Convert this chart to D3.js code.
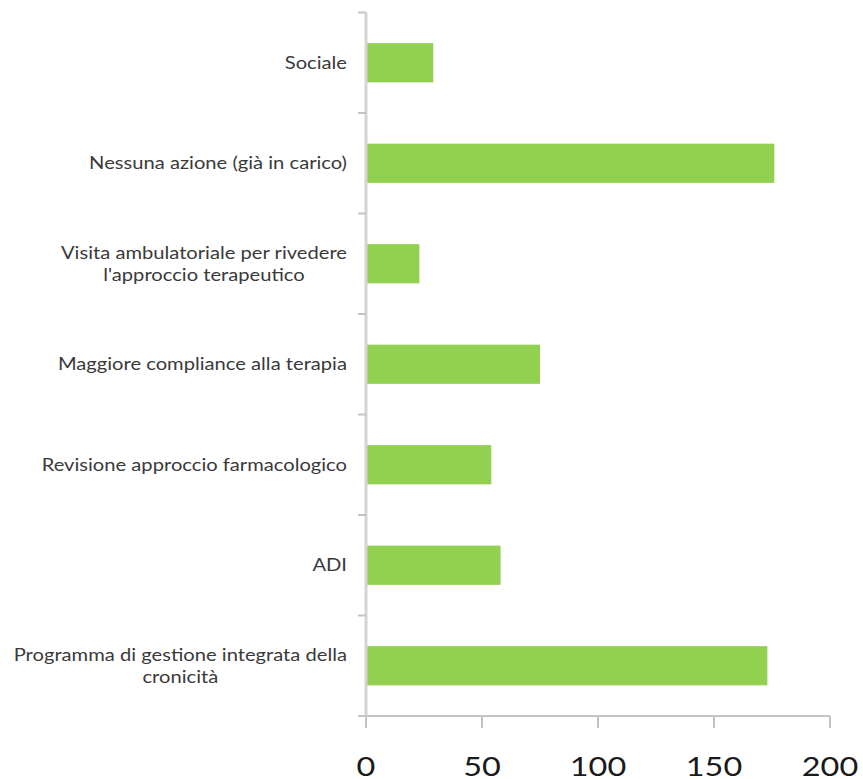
<!DOCTYPE html>
<html>
<head>
<meta charset="utf-8">
<script src="https://cdn.jsdelivr.net/npm/d3@7"></script>
<style>
  body { margin: 0; background: #fff; }
  svg { display: block; }
</style>
</head>
<body>
<svg width="863" height="779"></svg>
<script>
// categories top to bottom, each one an array of label lines
const categories = [
  ["Sociale"],
  ["Nessuna azione (già in carico)"],
  ["Visita ambulatoriale per rivedere", "l'approccio terapeutico"],
  ["Maggiore compliance alla terapia"],
  ["Revisione approccio farmacologico"],
  ["ADI"],
  ["Programma di gestione integrata della", "cronicità"]
];
const values = [29, 176, 23, 75, 54, 58, 173];
const xTicks = [0, 50, 100, 150, 200];

const svg = d3.select("svg");
const plotLeft = 366, plotRight = 830, plotTop = 12.5, plotBottom = 716;

const keys = categories.map(c => c.join(" "));

const x = d3.scaleLinear().domain([0, 200]).range([plotLeft, plotRight]);
const y = d3.scaleBand().domain(keys).range([plotTop, plotBottom])
  .paddingInner(0.61).paddingOuter(0.305);

// bars
svg.selectAll("rect.bar")
  .data(values)
  .enter()
  .append("rect")
  .attr("class", "bar")
  .attr("x", x(0))
  .attr("y", (d, i) => y(keys[i]))
  .attr("width", d => x(d) - x(0))
  .attr("height", y.bandwidth())
  .attr("fill", "#92d050");

const axisColor = "#c4c4c4";

// y axis line + ticks between categories
svg.append("line")
  .attr("x1", plotLeft).attr("x2", plotLeft)
  .attr("y1", plotTop).attr("y2", plotBottom)
  .attr("stroke", "#d4d4d4").attr("stroke-width", 3);

const step = y.step();
const bounds = d3.range(keys.length + 1).map(i => plotTop + i * step);
svg.selectAll("line.ytick")
  .data(bounds)
  .enter()
  .append("line")
  .attr("class", "ytick")
  .attr("x1", plotLeft - 8).attr("x2", plotLeft)
  .attr("y1", d => d).attr("y2", d => d)
  .attr("stroke", axisColor).attr("stroke-width", 2);

// x axis
svg.append("line")
  .attr("x1", plotLeft - 5).attr("x2", plotRight)
  .attr("y1", plotBottom).attr("y2", plotBottom)
  .attr("stroke", axisColor).attr("stroke-width", 2);

svg.selectAll("line.xtick")
  .data(xTicks)
  .enter()
  .append("line")
  .attr("class", "xtick")
  .attr("x1", d => x(d)).attr("x2", d => x(d))
  .attr("y1", plotBottom).attr("y2", plotBottom + 12)
  .attr("stroke", axisColor).attr("stroke-width", 2);

svg.selectAll("text.xlab")
  .data(xTicks)
  .enter()
  .append("text")
  .attr("class", "xlab")
  .attr("text-anchor", "middle")
  .attr("transform", d => `translate(${x(d)},776) scale(1.2,1)`)
  .attr("font-family", "Lato, sans-serif")
  .attr("font-size", 27)
  .attr("fill", "#1a1a1a")
  .text(d => d);

// category labels, lines centred on each other, block right aligned
// (the reference text is a bit wider than Lato, so stretch it horizontally)
const labelRight = 347, lineH = 22, stretch = 1.12;
categories.forEach((lines, i) => {
  const cy = y(keys[i]) + y.bandwidth() / 2;
  const g = svg.append("g");
  const texts = lines.map((t, j) => g.append("text")
    .attr("font-family", "Lato, sans-serif")
    .attr("font-size", 18)
    .attr("fill", "#3a3a3a")
    .attr("text-anchor", "middle")
    .attr("y", cy + (j - (lines.length - 1) / 2) * lineH + 6)
    .text(t));
  const w = d3.max(texts, t => t.node().getComputedTextLength()) * stretch;
  g.attr("transform", `translate(${labelRight - w / 2},0) scale(${stretch},1)`);
});
</script>
</body>
</html>
